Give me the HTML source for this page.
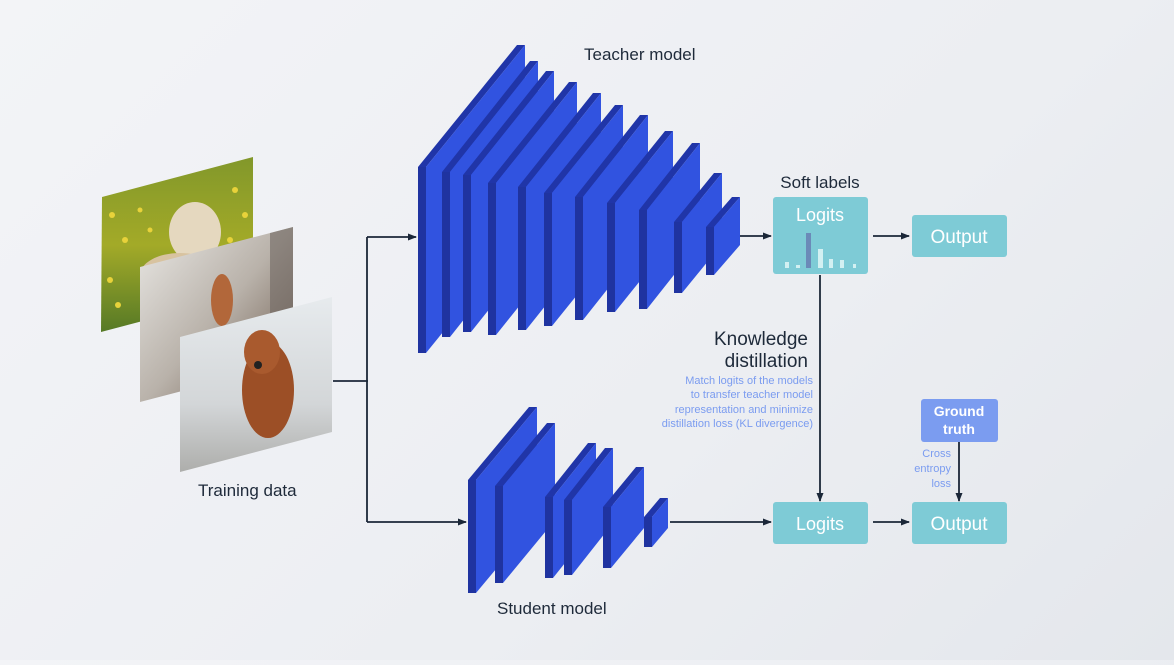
<!DOCTYPE html>
<html><head><meta charset="utf-8"><style>
html,body{margin:0;padding:0}
body{width:1174px;height:660px;overflow:hidden;background:linear-gradient(135deg,#f3f4f7 0%,#eceef2 60%,#e4e7ec 100%);font-family:"Liberation Sans",sans-serif}
</style></head><body>
<svg width="1174" height="660" viewBox="0 0 1174 660" xmlns="http://www.w3.org/2000/svg" font-family="Liberation Sans, sans-serif">
<defs>
<marker id="ar" markerWidth="10" markerHeight="10" refX="8" refY="5" orient="auto" markerUnits="userSpaceOnUse"><path d="M0,1.5 L9,5 L0,8.5 Z" fill="#1b2738"/></marker>
<linearGradient id="g1" x1="0" y1="0" x2="0" y2="1"><stop offset="0" stop-color="#7f962a"/><stop offset="0.5" stop-color="#a3aa28"/><stop offset="1" stop-color="#4f7526"/></linearGradient>
<linearGradient id="g2" x1="0" y1="0" x2="1" y2="1"><stop offset="0" stop-color="#ecebe8"/><stop offset="0.5" stop-color="#b9b2aa"/><stop offset="1" stop-color="#5e4a3c"/></linearGradient>
<linearGradient id="g3" x1="0" y1="0" x2="0" y2="1"><stop offset="0" stop-color="#e8ecef"/><stop offset="0.6" stop-color="#d3d6d8"/><stop offset="1" stop-color="#a9a9a6"/></linearGradient>
<clipPath id="c1"><polygon points="102,197 253,157 253,292 101,332"/></clipPath>
<clipPath id="c2"><polygon points="140,267 293,227 293,362 140,402"/></clipPath>
<clipPath id="c3"><polygon points="180,337 332,297 332,432 180,472"/></clipPath>
</defs>

<g clip-path="url(#c1)"><rect x="100" y="150" width="160" height="190" fill="url(#g1)"/>
<g fill="#e8d23a"><circle cx="112" cy="215" r="3"/><circle cx="125" cy="240" r="3"/><circle cx="110" cy="280" r="3"/><circle cx="140" cy="210" r="2.5"/><circle cx="235" cy="190" r="3"/><circle cx="245" cy="215" r="3"/><circle cx="118" cy="305" r="3"/><circle cx="150" cy="230" r="2.5"/><circle cx="230" cy="240" r="3"/></g>
<ellipse cx="195" cy="232" rx="26" ry="30" fill="#e5d8bf"/><ellipse cx="180" cy="275" rx="40" ry="22" fill="#d8c3a0"/></g>
<g clip-path="url(#c2)"><rect x="138" y="220" width="160" height="190" fill="url(#g2)"/><rect x="270" y="220" width="25" height="150" fill="#6e6660" opacity="0.6"/><ellipse cx="222" cy="300" rx="11" ry="26" fill="#b2673a"/></g>
<g clip-path="url(#c3)"><rect x="178" y="290" width="160" height="190" fill="url(#g3)"/><ellipse cx="268" cy="390" rx="26" ry="48" fill="#9c4f26"/><ellipse cx="262" cy="352" rx="18" ry="22" fill="#a95a2e"/><circle cx="258" cy="365" r="4" fill="#222"/></g>

<g stroke="#1b2738" stroke-width="1.8" fill="none">
<line x1="333" y1="381" x2="368" y2="381"/>
<line x1="367" y1="237" x2="367" y2="522"/>
<line x1="367" y1="237" x2="416" y2="237" marker-end="url(#ar)"/>
<line x1="367" y1="522" x2="466" y2="522" marker-end="url(#ar)"/>
<line x1="740" y1="236" x2="771" y2="236" marker-end="url(#ar)"/>
<line x1="873" y1="236" x2="909" y2="236" marker-end="url(#ar)"/>
<line x1="820" y1="275" x2="820" y2="501" marker-end="url(#ar)"/>
<line x1="670" y1="522" x2="771" y2="522" marker-end="url(#ar)"/>
<line x1="873" y1="522" x2="909" y2="522" marker-end="url(#ar)"/>
<line x1="959" y1="442" x2="959" y2="501" marker-end="url(#ar)"/>
</g>

<rect x="773" y="197" width="95" height="77" rx="3" fill="#7ecbd6"/>
<text x="820" y="221" font-size="18" fill="#fff" text-anchor="middle">Logits</text>
<g fill="#d2f0f2">
<rect x="785" y="262" width="4" height="6"/><rect x="796" y="265" width="4" height="3"/><rect x="818" y="249" width="5" height="19"/><rect x="829" y="259" width="4" height="9"/><rect x="840" y="260" width="4" height="8"/><rect x="853" y="264" width="3" height="4"/>
</g>
<rect x="806" y="233" width="5" height="35" fill="#6b8ab8"/>
<rect x="912" y="215" width="95" height="42" rx="3" fill="#7ecbd6"/>
<text x="959" y="243" font-size="19" fill="#fff" text-anchor="middle">Output</text>
<rect x="773" y="502" width="95" height="42" rx="3" fill="#7ecbd6"/>
<text x="820" y="530" font-size="18" fill="#fff" text-anchor="middle">Logits</text>
<rect x="912" y="502" width="95" height="42" rx="3" fill="#7ecbd6"/>
<text x="959" y="530" font-size="19" fill="#fff" text-anchor="middle">Output</text>
<rect x="921" y="399" width="77" height="43" rx="3" fill="#7b9cf0"/>
<text x="959" y="416" font-size="14" fill="#fff" text-anchor="middle" font-weight="bold">Ground</text>
<text x="959" y="434" font-size="14" fill="#fff" text-anchor="middle" font-weight="bold">truth</text>

<g fill="#1e2a3a">
<text x="584" y="60" font-size="17">Teacher model</text>
<text x="497" y="614" font-size="17">Student model</text>
<text x="198" y="496" font-size="17">Training data</text>
<text x="820" y="188" font-size="17" text-anchor="middle">Soft labels</text>
<text x="808" y="345" font-size="19" text-anchor="end">Knowledge</text>
<text x="808" y="367" font-size="19" text-anchor="end">distillation</text>
</g>
<g fill="#7b9cf0" font-size="11" text-anchor="end">
<text x="813" y="384">Match logits of the models</text>
<text x="813" y="398">to transfer teacher model</text>
<text x="813" y="413">representation and minimize</text>
<text x="813" y="427">distillation loss (KL divergence)</text>
<text x="951" y="457">Cross</text>
<text x="951" y="472">entropy</text>
<text x="951" y="487">loss</text>
</g>

<g>
<polygon points="418,167 426,167 525,45 517,45" fill="#2035a8"/><polygon points="426,167 525,45 525,231 426,353" fill="#3153e0"/><rect x="418" y="167" width="8" height="186" fill="#1f33a0"/>
<polygon points="442,172 450,172 538,61 530,61" fill="#2035a8"/><polygon points="450,172 538,61 538,226 450,337" fill="#3153e0"/><rect x="442" y="172" width="8" height="165" fill="#1f33a0"/>
<polygon points="463,175 471,175 554,71 546,71" fill="#2035a8"/><polygon points="471,175 554,71 554,228 471,332" fill="#3153e0"/><rect x="463" y="175" width="8" height="157" fill="#1f33a0"/>
<polygon points="488,183 496,183 577,82 569,82" fill="#2035a8"/><polygon points="496,183 577,82 577,234 496,335" fill="#3153e0"/><rect x="488" y="183" width="8" height="152" fill="#1f33a0"/>
<polygon points="518,187 526,187 601,93 593,93" fill="#2035a8"/><polygon points="526,187 601,93 601,236 526,330" fill="#3153e0"/><rect x="518" y="187" width="8" height="143" fill="#1f33a0"/>
<polygon points="544,193 552,193 623,105 615,105" fill="#2035a8"/><polygon points="552,193 623,105 623,238 552,326" fill="#3153e0"/><rect x="544" y="193" width="8" height="133" fill="#1f33a0"/>
<polygon points="575,197 583,197 648,115 640,115" fill="#2035a8"/><polygon points="583,197 648,115 648,238 583,320" fill="#3153e0"/><rect x="575" y="197" width="8" height="123" fill="#1f33a0"/>
<polygon points="607,203 615,203 673,131 665,131" fill="#2035a8"/><polygon points="615,203 673,131 673,240 615,312" fill="#3153e0"/><rect x="607" y="203" width="8" height="109" fill="#1f33a0"/>
<polygon points="639,210 647,210 700,143 692,143" fill="#2035a8"/><polygon points="647,210 700,143 700,242 647,309" fill="#3153e0"/><rect x="639" y="210" width="8" height="99" fill="#1f33a0"/>
<polygon points="674,222 682,222 722,173 714,173" fill="#2035a8"/><polygon points="682,222 722,173 722,244 682,293" fill="#3153e0"/><rect x="674" y="222" width="8" height="71" fill="#1f33a0"/>
<polygon points="706,227 714,227 740,197 732,197" fill="#2035a8"/><polygon points="714,227 740,197 740,245 714,275" fill="#3153e0"/><rect x="706" y="227" width="8" height="48" fill="#1f33a0"/>
<polygon points="468,480 476,480 537,407 529,407" fill="#2035a8"/><polygon points="476,480 537,407 537,520 476,593" fill="#3153e0"/><rect x="468" y="480" width="8" height="113" fill="#1f33a0"/>
<polygon points="495,486 503,486 555,423 547,423" fill="#2035a8"/><polygon points="503,486 555,423 555,520 503,583" fill="#3153e0"/><rect x="495" y="486" width="8" height="97" fill="#1f33a0"/>
<polygon points="545,497 553,497 596,443 588,443" fill="#2035a8"/><polygon points="553,497 596,443 596,524 553,578" fill="#3153e0"/><rect x="545" y="497" width="8" height="81" fill="#1f33a0"/>
<polygon points="564,500 572,500 613,448 605,448" fill="#2035a8"/><polygon points="572,500 613,448 613,523 572,575" fill="#3153e0"/><rect x="564" y="500" width="8" height="75" fill="#1f33a0"/>
<polygon points="603,507 611,507 644,467 636,467" fill="#2035a8"/><polygon points="611,507 644,467 644,528 611,568" fill="#3153e0"/><rect x="603" y="507" width="8" height="61" fill="#1f33a0"/>
<polygon points="644,517 652,517 668,498 660,498" fill="#2035a8"/><polygon points="652,517 668,498 668,528 652,547" fill="#3153e0"/><rect x="644" y="517" width="8" height="30" fill="#1f33a0"/>
</g>
</svg>
</body></html>
